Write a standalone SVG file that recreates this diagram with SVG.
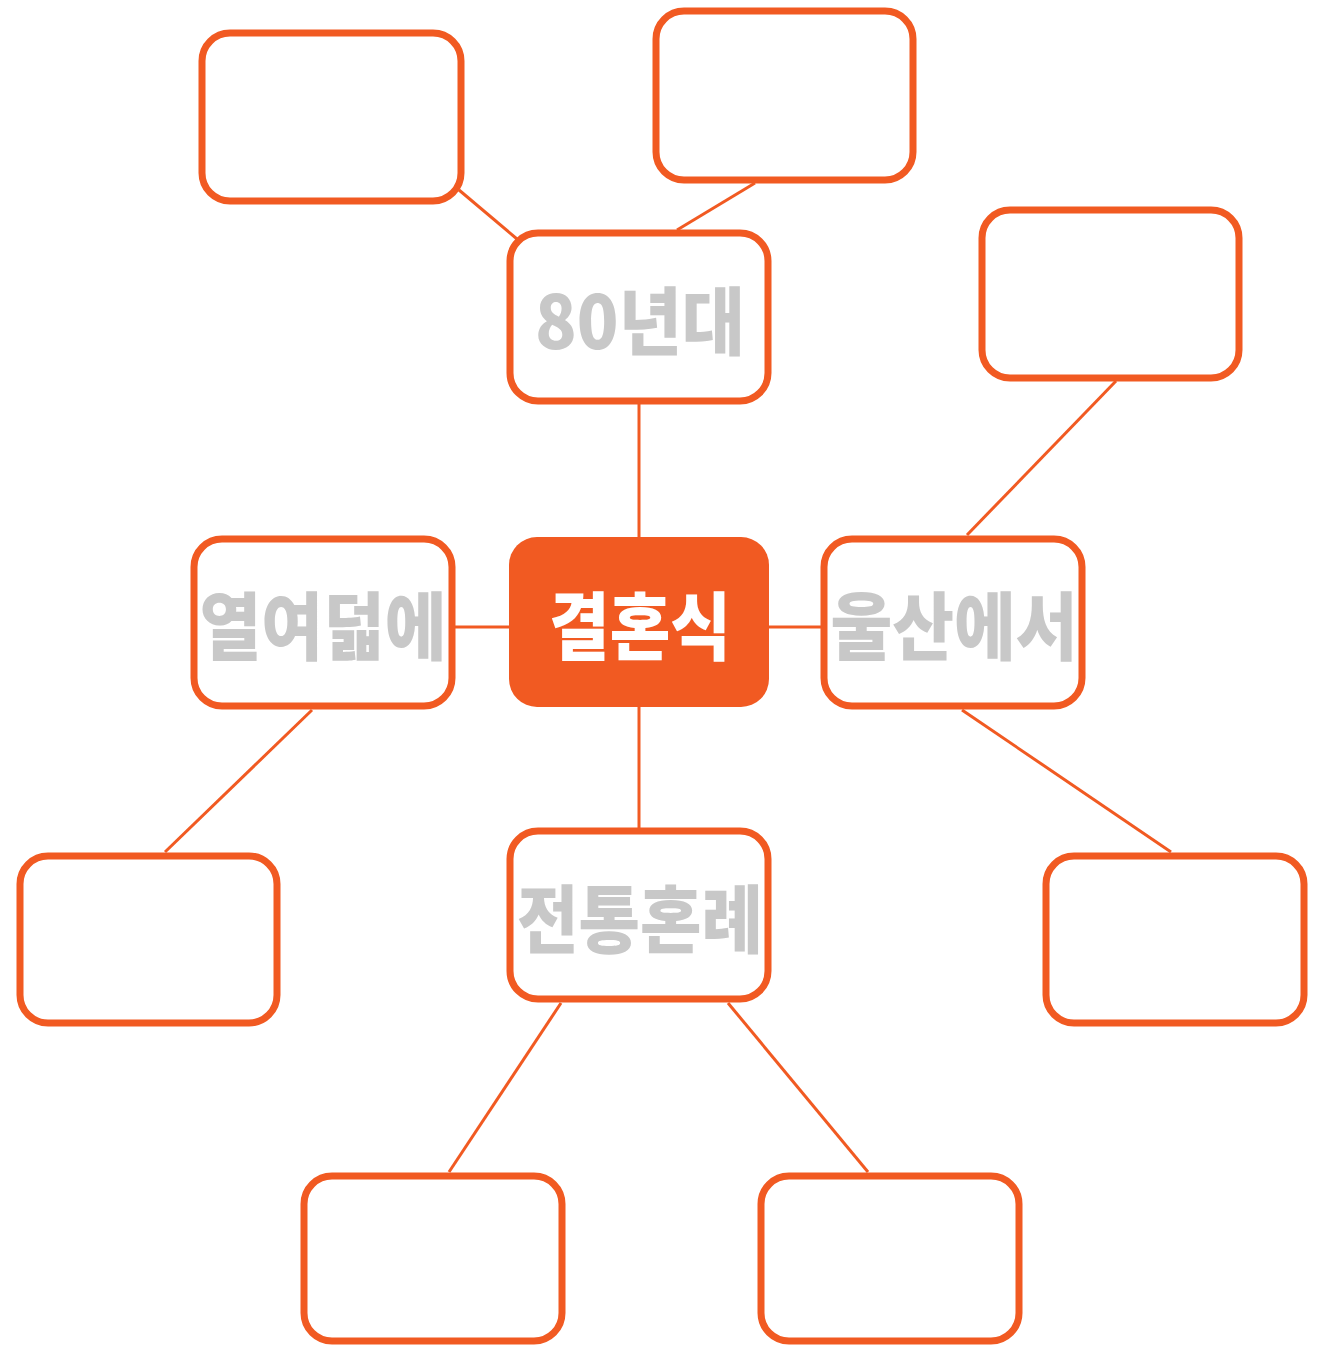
<svg xmlns="http://www.w3.org/2000/svg" width="1335" height="1347" viewBox="0 0 1335 1347">
<style>
.box{fill:#fff;stroke:#F15A22;stroke-width:7}
.conn line{stroke:#F15A22;stroke-width:3}
.lbl{font-family:"Noto Sans CJK KR","Noto Sans",sans-serif;font-weight:900;font-size:74px;fill:#C8C8C8;text-anchor:middle}
.main{fill:#fff}
</style>
<rect width="1335" height="1347" fill="#fff"/>
<g id="connectors" class="conn">
<line x1="459" y1="190" x2="517" y2="239"/>
<line x1="755" y1="183" x2="677" y2="230"/>
<line x1="639" y1="404" x2="639" y2="537"/>
<line x1="455" y1="627" x2="510" y2="627"/>
<line x1="768" y1="627" x2="824" y2="627"/>
<line x1="639" y1="706" x2="639" y2="829"/>
<line x1="1116" y1="381" x2="967" y2="535"/>
<line x1="312" y1="710" x2="165" y2="852"/>
<line x1="962" y1="710" x2="1171" y2="852"/>
<line x1="561" y1="1003" x2="449" y2="1172"/>
<line x1="728" y1="1003" x2="868" y2="1172"/>
</g>
<g id="n-tl"><rect class="box" x="202" y="33" width="259" height="168" rx="28"/></g>
<g id="n-tc"><rect class="box" x="656" y="11" width="257" height="169" rx="28"/></g>
<g id="n-rt"><rect class="box" x="982" y="210" width="257" height="168" rx="28"/></g>
<g id="n-80"><rect class="box" x="510" y="233" width="258" height="168" rx="28"/>
<text class="lbl" x="640" y="349" textLength="210" lengthAdjust="spacingAndGlyphs">80년대</text></g>
<g id="n-center"><rect x="509" y="537" width="260" height="170" rx="28" fill="#F15A22"/>
<text class="lbl main" x="640" y="654" textLength="182" lengthAdjust="spacingAndGlyphs">결혼식</text></g>
<g id="n-18"><rect class="box" x="194" y="539" width="258" height="167" rx="28"/>
<text class="lbl" x="323" y="654" textLength="247" lengthAdjust="spacingAndGlyphs">열여덟에</text></g>
<g id="n-ulsan"><rect class="box" x="824" y="539" width="258" height="167" rx="28"/>
<text class="lbl" x="954" y="654" textLength="247" lengthAdjust="spacingAndGlyphs">울산에서</text></g>
<g id="n-trad"><rect class="box" x="510" y="831" width="258" height="168" rx="28"/>
<text class="lbl" x="640" y="947" textLength="246" lengthAdjust="spacingAndGlyphs">전통혼례</text></g>
<g id="n-lb"><rect class="box" x="20" y="856" width="257" height="167" rx="28"/></g>
<g id="n-rb"><rect class="box" x="1046" y="856" width="258" height="167" rx="28"/></g>
<g id="n-bl"><rect class="box" x="304" y="1176" width="258" height="165" rx="28"/></g>
<g id="n-br"><rect class="box" x="761" y="1176" width="258" height="165" rx="28"/></g>
</svg>
